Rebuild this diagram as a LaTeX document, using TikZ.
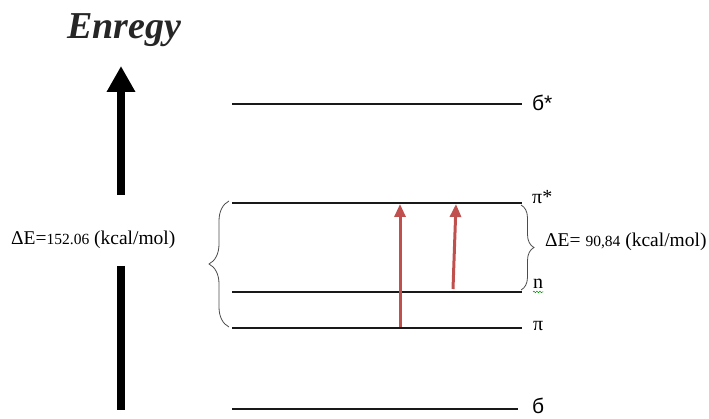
\documentclass[tikz,border=0pt]{standalone}
\usepackage{fontspec}
\setmainfont{Liberation Serif}
\newfontfamily\lsans{Liberation Sans}
\usetikzlibrary{arrows.meta,decorations.pathreplacing,decorations.pathmorphing}
\definecolor{arrred}{RGB}{192,80,77}
\tikzset{
  level/.style={line width=1.8pt,black!90},
  lvllabel/.style={anchor=west,inner sep=0pt,font=\fontsize{20}{22}\selectfont},
  sigmalabel/.style={anchor=west,inner sep=0pt,font=\lsans\fontsize{21}{23}\selectfont},
  trans/.style={line width=3pt,arrred,-{Triangle[width=11pt,length=13pt]}},
  bracestyle/.style={decorate,decoration={brace,amplitude=#1},line width=0.8pt,black!70},
  axisbar/.style={line width=8.5pt,black},
  detext/.style={anchor=west,inner sep=0pt,font=\fontsize{19.5}{22}\selectfont},
}
\newcommand{\numsz}{\fontsize{15.5}{18}\selectfont}
\begin{document}
\begin{tikzpicture}[x=1pt,y=-1pt]
\useasboundingbox (0,0) rectangle (709,419);
% title
\node[font=\bfseries\itshape\fontsize{38}{42}\selectfont,text=black!85,inner sep=0pt] (title) at (124,30) {Enregy};
% energy axis
\coordinate (axtop) at (121,66);
\coordinate (axmid) at (121,195);
\coordinate (axlow) at (121,266);
\coordinate (axbot) at (121,410);
\draw[axisbar,-{Triangle[width=27pt,length=26pt]}] (axmid) -- (axtop);
\draw[axisbar] (axlow) -- (axbot);
\node[detext] (deltaL) at (11,240) {ΔE={\numsz152.06} (kcal/mol)};
% levels
\coordinate (ss1) at (232,104); \coordinate (ss2) at (522,104);
\coordinate (ps1) at (232,203); \coordinate (ps2) at (522,203);
\coordinate (n1) at (232,292);  \coordinate (n2) at (522,292);
\coordinate (p1) at (232,328);  \coordinate (p2) at (522,328);
\coordinate (s1) at (232,409);  \coordinate (s2) at (518,409);
\draw[level] (ss1) -- (ss2);
\draw[level] (ps1) -- (ps2);
\draw[level] (n1) -- (n2);
\draw[level] (p1) -- (p2);
\draw[level] (s1) -- (s2);
\node[sigmalabel] (lss) at (532,103) {б*};
\node[lvllabel] (lps) at (532,197) {π*};
\node[lvllabel] (ln) at (533,284) {n};
\node[lvllabel] (lp) at (533,326) {π};
\node[sigmalabel] (ls) at (532,406) {б};
\draw[green!60!black,line width=0.5pt,decorate,decoration={snake,amplitude=0.8pt,segment length=3pt}] ([yshift=-3pt]ln.south west) -- ([yshift=-3pt]ln.south east);
% transitions
\coordinate (a1s) at (400,327); \coordinate (a1e) at (400,204);
\coordinate (a2s) at (453,289); \coordinate (a2e) at (456,204);
\draw[trans] (a1s) -- (a1e);
\draw[trans] (a2s) -- (a2e);
% braces
\coordinate (bl1) at (229,327); \coordinate (bl2) at (229,201);
\draw[bracestyle=20pt] (bl1) -- (bl2);
\coordinate (br1) at (521,205); \coordinate (br2) at (521,290);
\node[detext] (deltaR) at (545,242) {ΔE=~{\numsz90,84} (kcal/mol)};
\draw[bracestyle=13pt] (br1) -- (br2);
\end{tikzpicture}
\end{document}
